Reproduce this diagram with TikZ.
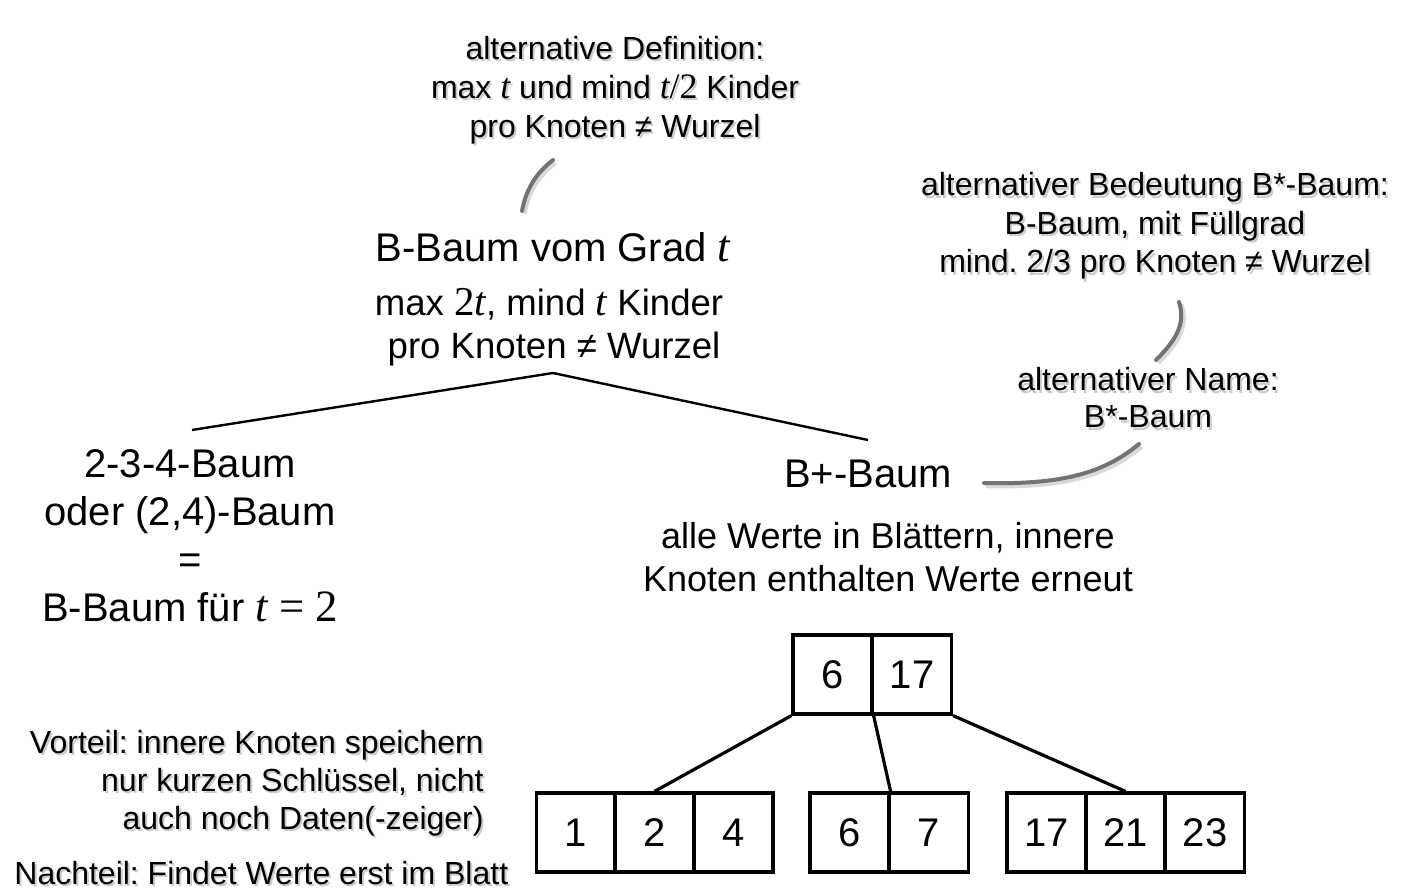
\documentclass[tikz,border=0pt]{standalone}
\usepackage{fontspec}
\setmainfont{Liberation Sans}
\newfontfamily\mfont{Liberation Serif}[Scale=1.12]
\frenchspacing
\newcommand\tv{{\mfont\itshape t}}
\newcommand\altdeftext{alternative Definition:\\ max \tv{} und mind \tv{\mfont /2} Kinder\\ pro Knoten ≠ Wurzel}
\newcommand\altbedtext{alternativer Bedeutung B*-Baum:\\ B-Baum, mit Füllgrad\\ mind. 2/3 pro Knoten ≠ Wurzel}
\newcommand\altnametext{alternativer Name:\\ B*-Baum}
\newcommand\vorteiltext{Vorteil: innere Knoten speichern\\ nur kurzen Schlüssel, nicht\\ auch noch Daten(-zeiger)}
\newcommand\nachteiltext{Nachteil: Findet Werte erst im Blatt}
\tikzset{
  txt/.style={inner sep=0pt, align=center},
  big/.style={font=\fontsize{20}{24}\selectfont},
  mid/.style={font=\fontsize{18.3}{21.5}\selectfont},
  ann/.style={font=\fontsize{16}{19.5}\selectfont},
  shadow/.style={text=black!20, xshift=1pt, yshift=-1.2pt},
  cell/.style={draw, line width=1.6pt, minimum size=39.5pt, inner sep=0pt, font=\fontsize{20}{24}\selectfont},
  edge/.style={line width=1.6pt},
  branch/.style={line width=1.2pt},
  gcurve/.style={draw=black!55, line width=2pt, line cap=round,
     preaction={draw=black!15, line width=2.6pt, transform canvas={shift={(1pt,-1.3pt)}}}}
}
\begin{document}
\begin{tikzpicture}[x=0.5pt,y=-0.5pt]
\useasboundingbox (0,0) rectangle (1402,892);

% annotation shadows
\node[txt,ann,shadow] (altdefsh) at (615,90) {\altdeftext};
\node[txt,ann,font=\fontsize{16}{19.25}\selectfont,shadow] (altbedsh) at (1155,226) {\altbedtext};
\node[txt,ann,font=\fontsize{16}{18.5}\selectfont,shadow] (altnamesh) at (1148,398) {\altnametext};
\node[txt,ann,align=right,anchor=east,font=\fontsize{16}{19}\selectfont,shadow] (vorteilsh) at (484,783) {\vorteiltext};
\node[txt,ann,anchor=west,shadow] (nachteilsh) at (14,873) {\nachteiltext};

% annotations
\node[txt,ann] (altdef) at (615,90) {\altdeftext};
\node[txt,ann,font=\fontsize{16}{19.25}\selectfont] (altbed) at (1155,226) {\altbedtext};
\node[txt,ann,font=\fontsize{16}{18.5}\selectfont] (altname) at (1148,398) {\altnametext};

% main
\node[txt,big] (btree) at (553,247) {B-Baum vom Grad \tv};
\node[txt,mid] (bdesc) at (549,327) {max {\mfont 2\itshape t}, mind \tv{} Kinder\\ \hspace*{5pt}pro Knoten ≠ Wurzel};
\node[txt,big] (tff) at (190,536) {2-3-4-Baum\\ oder (2,4)-Baum\\ =\\ B-Baum für \tv{} {\mfont =} {\mfont 2}};
\node[txt,big] (bplus) at (868,474) {B+-Baum};
\node[txt,font=\fontsize{18}{21.5}\selectfont] (bpdesc) at (888,557) {alle Werte in Blättern, innere\\ Knoten enthalten Werte erneut};

\node[txt,ann,align=right,anchor=east,font=\fontsize{16}{19}\selectfont] (vorteil) at (484,783) {\vorteiltext};
\node[txt,ann,anchor=west] (nachteil) at (14,873) {\nachteiltext};

% branches
\coordinate (apex) at (553,373);
\coordinate (lend) at (192,430);
\coordinate (rend) at (868,440);
\draw[branch] (lend) -- (apex) -- (rend);

% gray curves
\coordinate (c1a) at (522,211);
\coordinate (c1b) at (553,160);
\coordinate (c2a) at (1179,302);
\coordinate (c2b) at (1156,360);
\coordinate (c3a) at (984,483);
\coordinate (c3b) at (1139,444);
\draw[gcurve] (c1a) .. controls (526,190) and (535,174) .. (c1b);
\draw[gcurve] (c2a) .. controls (1186,324) and (1176,340) .. (c2b);
\draw[gcurve] (c3a) .. controls (1065,485) and (1105,472) .. (c3b);

% B+ tree
\node[cell] (r6) at (832.5,674.5) {6};
\node[cell] (r17) at (912,674.5) {17};
\node[cell] (l1) at (576,832.5) {1};
\node[cell] (l2) at (654.5,832.5) {2};
\node[cell] (l4) at (733.5,832.5) {4};
\node[cell] (m6) at (849.5,832.5) {6};
\node[cell] (m7) at (929,832.5) {7};
\node[cell] (n17) at (1046.5,832.5) {17};
\node[cell] (n21) at (1125.5,832.5) {21};
\node[cell] (n23) at (1205,832.5) {23};
\draw[edge] (r6.south west) -- (l2.north);
\draw[edge] (r6.south east) -- (m6.north east);
\draw[edge] (r17.south east) -- (n21.north);
\end{tikzpicture}
\end{document}
